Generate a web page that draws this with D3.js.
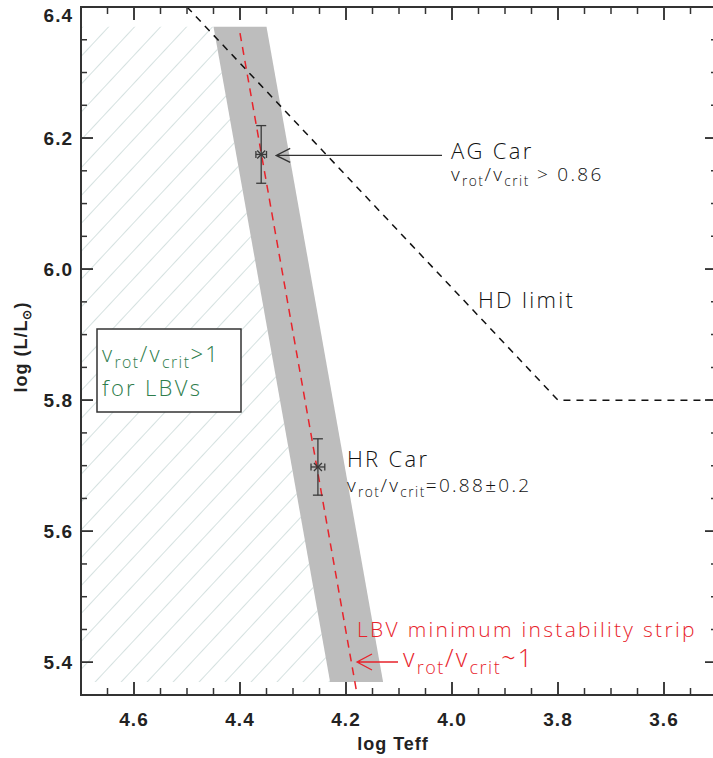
<!DOCTYPE html>
<html>
<head>
<meta charset="utf-8">
<script src="https://cdn.jsdelivr.net/npm/d3@7"></script>
<style>
  body { margin: 0; background: #fff; }
  svg { display: block; }
  .tick-label { font-family: "Liberation Sans", Arial, sans-serif; font-weight: bold; font-size: 19px; fill: #222; letter-spacing: 1px; }
  .ann { font-family: "Open Sans", "DejaVu Sans", sans-serif; font-weight: 300; letter-spacing: 2.3px; }
</style>
</head>
<body>
<div id="chart"></div>
<script>
const width = 713, height = 758;

// axis ranges
const xDomain = [4.7, 3.5];
const yDomain = [5.35, 6.4];
const xTicks = [4.6, 4.4, 4.2, 4.0, 3.8, 3.6];
const yTicks = [5.4, 5.6, 5.8, 6.0, 6.2, 6.4];

// LBV minimum instability strip (grey band), corners in [logTeff, logL]
const stripBand = [[4.45, 6.37], [4.35, 6.37], [4.13, 5.37], [4.23, 5.37]];
// region where vrot/vcrit > 1 (hatched)
const hatchRegion = [[4.7, 6.37], [4.45, 6.37], [4.23, 5.37], [4.7, 5.37]];
// vrot/vcrit ~ 1 line
const critLine = [[4.40, 6.36], [4.18, 5.355]];
// Humphreys-Davidson limit
const hdLimit = [[4.5, 6.4], [3.8, 5.8], [3.5, 5.8]];
// stars
const starNames = ["AG Car", "HR Car"];
const starTeff = [4.36, 4.253];
const starLum = [6.175, 5.698];
const starErrL = [0.044, 0.043];
const starErrT = [0.010, 0.013];

const svg = d3.select("#chart").append("svg")
    .attr("width", width)
    .attr("height", height);

const x = d3.scaleLinear().domain(xDomain).range([81, 717]);
const y = d3.scaleLinear().domain(yDomain).range([695, 7]);

const line = d3.line().x(d => x(d[0])).y(d => y(d[1]));

// hatch pattern
const defs = svg.append("defs");
const pat = defs.append("pattern")
    .attr("id", "hatch")
    .attr("patternUnits", "userSpaceOnUse")
    .attr("width", 19)
    .attr("height", 19)
    .attr("patternTransform", "translate(81,0) rotate(43)");
pat.append("line")
    .attr("x1", 0).attr("y1", 0).attr("x2", 0).attr("y2", 19)
    .attr("stroke", "#b9cdcb")
    .attr("stroke-width", 1.2);

svg.append("path")
    .attr("d", line(hatchRegion) + "Z")
    .attr("fill", "url(#hatch)");

// grey strip
svg.append("path")
    .attr("d", line(stripBand) + "Z")
    .attr("fill", "#bdbdbd");

// HD limit
svg.append("path")
    .attr("d", line(hdLimit))
    .attr("fill", "none")
    .attr("stroke", "#111")
    .attr("stroke-width", 1.5)
    .attr("stroke-dasharray", "7,6");

// red dashed line
svg.append("path")
    .attr("d", line(critLine))
    .attr("fill", "none")
    .attr("stroke", "#e8232b")
    .attr("stroke-width", 1.5)
    .attr("stroke-dasharray", "8,6");

// error bars + markers
const stars = starNames.map((n, i) => ({ name: n, t: starTeff[i], l: starLum[i], el: starErrL[i], et: starErrT[i] }));
const sg = svg.append("g").attr("stroke", "#3a3a3a").attr("stroke-width", 1.3).attr("fill", "none");
stars.forEach(s => {
    const cx = x(s.t), cy = y(s.l);
    const y1 = y(s.l + s.el), y2 = y(s.l - s.el);
    const xa = x(s.t + s.et), xb = x(s.t - s.et);
    sg.append("line").attr("x1", cx).attr("x2", cx).attr("y1", y1).attr("y2", y2);
    sg.append("line").attr("x1", cx - 5).attr("x2", cx + 5).attr("y1", y1).attr("y2", y1);
    sg.append("line").attr("x1", cx - 5).attr("x2", cx + 5).attr("y1", y2).attr("y2", y2);
    sg.append("line").attr("x1", xa).attr("x2", xb).attr("y1", cy).attr("y2", cy);
    sg.append("line").attr("x1", xa).attr("x2", xa).attr("y1", cy - 3.5).attr("y2", cy + 3.5);
    sg.append("line").attr("x1", xb).attr("x2", xb).attr("y1", cy - 3.5).attr("y2", cy + 3.5);
    sg.append("path").attr("d", `M${cx - 4},${cy - 4}L${cx + 4},${cy + 4}M${cx - 4},${cy + 4}L${cx + 4},${cy - 4}`);
});

// axes frame and ticks
const frame = svg.append("g");
const x0 = x.range()[0], x1 = x.range()[1], yb = y.range()[0], yt = y.range()[1];
frame.append("rect")
    .attr("x", x0).attr("y", yt)
    .attr("width", x1 - x0).attr("height", yb - yt)
    .attr("fill", "none").attr("stroke", "#333").attr("stroke-width", 2);

const xMinor = d3.range(3.55, 4.7, 0.05).map(v => +v.toFixed(2));
const yMinor = d3.range(5.35, 6.4, 0.05).map(v => +v.toFixed(2));
const isMajor = (v, list) => list.some(m => Math.abs(m - v) < 1e-6);

xMinor.concat(xTicks).forEach(v => {
    const len = isMajor(v, xTicks) ? 13 : 7;
    const px = x(v);
    frame.append("line").attr("x1", px).attr("x2", px).attr("y1", yb).attr("y2", yb - len)
        .attr("stroke", "#333").attr("stroke-width", 1.5);
    frame.append("line").attr("x1", px).attr("x2", px).attr("y1", yt).attr("y2", yt + len)
        .attr("stroke", "#333").attr("stroke-width", 1.5);
});
yMinor.concat(yTicks).forEach(v => {
    const len = isMajor(v, yTicks) ? 12 : 6;
    const py = y(v);
    frame.append("line").attr("x1", x0).attr("x2", x0 + len).attr("y1", py).attr("y2", py)
        .attr("stroke", "#333").attr("stroke-width", 1.5);
    frame.append("line").attr("x1", x1).attr("x2", x1 - len).attr("y1", py).attr("y2", py)
        .attr("stroke", "#333").attr("stroke-width", 1.5);
});

// tick labels
svg.append("g").selectAll("text").data(xTicks).enter().append("text")
    .attr("class", "tick-label")
    .attr("x", d => x(d))
    .attr("y", yb + 31)
    .attr("text-anchor", "middle")
    .text(d => d.toFixed(1));
svg.append("g").selectAll("text").data(yTicks).enter().append("text")
    .attr("class", "tick-label")
    .attr("x", 73)
    .attr("y", d => d === 6.4 ? y(d) + 15 : y(d) + 7)
    .attr("text-anchor", "end")
    .text(d => d.toFixed(1));

// axis titles
svg.append("text")
    .attr("class", "tick-label")
    .attr("x", (x0 + x1) / 2 - 6)
    .attr("y", 750)
    .attr("text-anchor", "middle")
    .style("font-size", "18px")
    .text("log Teff");
const yl = svg.append("text")
    .attr("class", "tick-label")
    .attr("transform", `translate(27,347) rotate(-90)`)
    .attr("text-anchor", "middle")
    .style("font-size", "18px");
yl.append("tspan").text("log (L/L");
yl.append("tspan").attr("dy", 4).style("font-size", "12px").text("⊙");
yl.append("tspan").attr("dy", -4).text(")");

// text with v_rot / v_crit subscripts
function richText(px, py, parts, size, color) {
    const t = svg.append("text").attr("class", "ann")
        .attr("x", px).attr("y", py)
        .style("font-size", size + "px")
        .attr("fill", color);
    let shifted = false;
    parts.forEach(p => {
        const sub = p[1] === "sub";
        const ts = t.append("tspan").text(p[0]);
        if (sub && !shifted) { ts.attr("dy", size * 0.28); shifted = true; }
        if (!sub && shifted) { ts.attr("dy", -size * 0.28); shifted = false; }
        if (sub) ts.style("font-size", (size * 0.72) + "px").style("letter-spacing", "1.5px");
    });
    return t;
}
const vrat = [["v", ""], ["rot", "sub"], ["/v", ""], ["crit", "sub"]];

// AG Car
svg.append("text").attr("class", "ann").attr("x", 451).attr("y", 159)
    .style("font-size", "22px").attr("fill", "#111").text("AG Car");
richText(451, 181, vrat.concat([[" > 0.86", ""]]), 19, "#111");
svg.append("path")
    .attr("d", `M442,${y(starLum[0]) + 1}H${x(starTeff[0]) + 15}m14,-7l-14,7l14,7`)
    .attr("fill", "none").attr("stroke", "#333").attr("stroke-width", 1.3);

// HR Car
svg.append("text").attr("class", "ann").attr("x", 347).attr("y", 467)
    .style("font-size", "22px").attr("fill", "#111").text("HR Car");
richText(347, 492, vrat.concat([["=0.88±0.2", ""]]), 19, "#111");

// HD limit label
svg.append("text").attr("class", "ann").attr("x", 478).attr("y", 308)
    .style("font-size", "22px").attr("fill", "#111").text("HD limit");

// LBV strip labels (red)
svg.append("text").attr("class", "ann").attr("x", 357).attr("y", 637)
    .style("font-size", "21px").attr("fill", "#e8232b").text("LBV minimum instability strip");
richText(403, 667, vrat.concat([["~1", ""]]), 25, "#e8232b");
svg.append("path")
    .attr("d", "M398,662H357m15,-8l-15,8l15,8")
    .attr("fill", "none").attr("stroke", "#e8232b").attr("stroke-width", 1.3);

// green box
svg.append("rect").attr("x", 97).attr("y", 329).attr("width", 144).attr("height", 83)
    .attr("fill", "#fff").attr("stroke", "#333").attr("stroke-width", 1.5);
richText(102, 362, vrat.concat([[">1", ""]]), 22, "#2e7d4c");
svg.append("text").attr("class", "ann").attr("x", 102).attr("y", 396)
    .style("font-size", "22px").attr("fill", "#2e7d4c").text("for LBVs");
</script>
</body>
</html>
